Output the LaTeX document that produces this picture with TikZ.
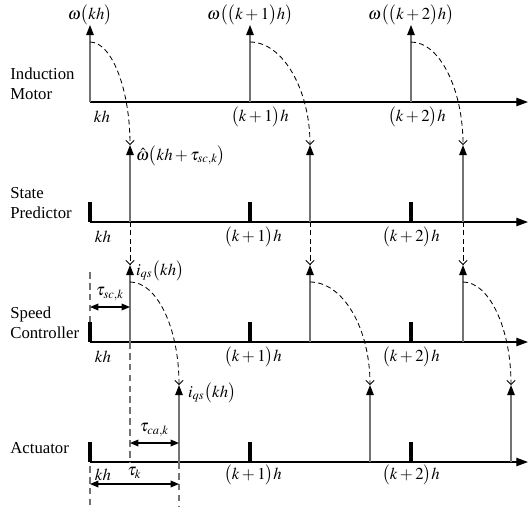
\documentclass[tikz,border=0pt]{standalone}
\usepackage{mathptmx}
\usepackage{fontspec}
\setmainfont{Liberation Serif}
\usetikzlibrary{arrows.meta}

\begin{document}
\begin{tikzpicture}[x=0.021cm, y=-0.021cm,
    axis/.style={line width=0.8pt, -{Triangle[length=7pt,width=5pt]}},
    tick/.style={line width=1.8pt},
    impulse/.style={line width=0.8pt, black!55, -{Triangle[length=6pt,width=4.5pt,color=black]}},
    flow/.style={line width=0.5pt, dash pattern=on 3pt off 2pt, -{Straight Barb[length=2.5pt,width=5pt]}},
    guide/.style={line width=0.7pt, black!55, dash pattern=on 4pt off 2.5pt},
    span/.style={line width=0.7pt, {Triangle[length=5pt,width=4pt]}-{Triangle[length=5pt,width=4pt]}},
    rowname/.style={anchor=west, align=left, inner sep=0pt},
    ticklabel/.style={inner sep=0pt}]
    \useasboundingbox (0,0) rectangle (530,508);

    % Row names
    \node[rowname] (im-name) at (10,84) {Induction\\Motor};
    \node[rowname] (sp-name) at (10,203) {State\\Predictor};
    \node[rowname] (sc-name) at (10,323) {Speed\\Controller};
    \node[rowname] (ac-name) at (10,448) {Actuator};

    % Delay guides
    \coordinate (g0) at (90,272);
    \coordinate (g1) at (130,462);
    \coordinate (g2) at (90,506);
    \coordinate (g3) at (179,506);
    \coordinate (g4) at (90,342);
    \coordinate (g5) at (90,466);
    \draw[guide] (g0) -- (g4);
    \draw[guide] (g5) -- (g2);

    % Time axes
    \foreach \n/\yy in {im/102, sp/222, sc/342, ac/462}{
        \coordinate (\n-o) at (90,\yy);
        \coordinate (\n-e) at (528,\yy);
        \draw[axis] (\n-o) -- (\n-e);
    }

    % Sampling instants (ticks)
    \foreach \yy in {222, 342, 462}
        \foreach \xx in {90, 250, 411}
            \draw[tick] (\xx,\yy) -- (\xx,\yy-20);

    % Tick labels
    \node[ticklabel] (im-k0) at (102,117) {$kh$};
    \node[ticklabel] (im-k1) at (260,117) {$\big(k+1\big)h$};
    \node[ticklabel] (im-k2) at (417,117) {$\big(k+2\big)h$};
    \foreach \n/\yy in {sp/237, sc/357, ac/475}{
        \node[ticklabel] (\n-k0) at (103,\yy) {$kh$};
        \node[ticklabel] (\n-k1) at (253,\yy) {$\big(k+1\big)h$};
        \node[ticklabel] (\n-k2) at (411,\yy) {$\big(k+2\big)h$};
    }

    % Impulses: base, start of flow, top
    \foreach \n/\yy/\xa/\xb/\xc in {m/102/90/250/411, p/222/130/310/463, c/342/130/310/463, a/462/179/370/511}{
        \foreach \i/\xx in {0/\xa, 1/\xb, 2/\xc}{
            \coordinate (\n\i) at (\xx,\yy);
            \coordinate (\n\i s) at (\xx,\yy-60);
            \coordinate (\n\i t) at (\xx,\yy-77);
            \draw[impulse] (\n\i) -- (\n\i t);
        }
    }
    \draw[guide] (c0) -- (g1);
    \draw[guide] (a0) -- (g3);

    % Motor -> predictor
    \foreach \i/\dx in {0/22, 1/33, 2/29}
        \draw[flow] (m\i s) .. controls +(\dx,0) and +(0,-55) .. (p\i t);
    % Predictor -> controller
    \foreach \i in {0,1,2}
        \draw[flow] (p\i) -- (c\i t);
    % Controller -> actuator
    \foreach \i/\dx in {0/27, 1/33, 2/26}
        \draw[flow] (c\i s) .. controls +(\dx,0) and +(0,-57) .. (a\i t);

    % Signal labels
    \node[inner sep=0.5pt] (w0) at (90,15) {$\omega\big(kh\big)$};
    \node[inner sep=0.5pt] (w1) at (250,15) {$\omega\big(\big(k+1\big)h\big)$};
    \node[inner sep=0.5pt] (w2) at (411,15) {$\omega\big(\big(k+2\big)h\big)$};
    \node[anchor=west, inner sep=1pt] (what) at (134,156) {$\hat\omega\big(kh+\tau_{sc,k}\big)$};
    \node[anchor=west, inner sep=1pt] (iqs-c) at (134,271) {$i_{qs}\big(kh\big)$};
    \node[anchor=west, inner sep=1pt] (iqs-a) at (186,393) {$i_{qs}\big(kh\big)$};

    % Delays
    \coordinate (tsc-a) at (90,307);
    \coordinate (tsc-b) at (130,307);
    \coordinate (tca-a) at (130,443);
    \coordinate (tca-b) at (179,443);
    \coordinate (tk-a) at (90,484);
    \coordinate (tk-b) at (179,484);
    \draw[span] (tsc-a) -- node[above] (tsc) {$\tau_{sc,k}$} (tsc-b);
    \draw[span] (tca-a) -- node[above] (tca) {$\tau_{ca,k}$} (tca-b);
    \draw[span] (tk-a) -- node[above, inner sep=3pt] (tk) {$\tau_k$} (tk-b);

\end{tikzpicture}
\end{document}
